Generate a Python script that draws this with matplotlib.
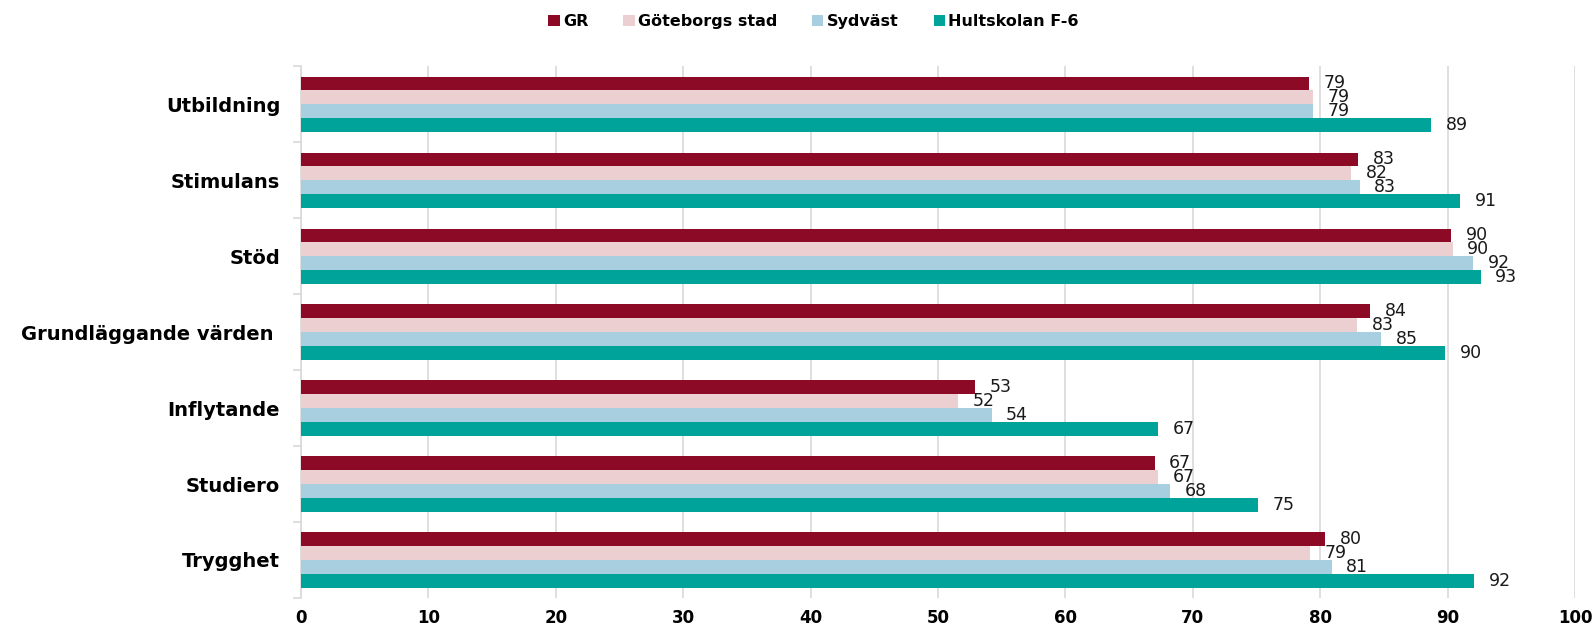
import matplotlib
matplotlib.use("Agg")
import matplotlib.pyplot as plt
import numpy as np

categories = ["Utbildning", "Stimulans", "Stöd", "Grundläggande värden ",
              "Inflytande", "Studiero", "Trygghet"]
series_names = ["GR", "Göteborgs stad", "Sydväst", "Hultskolan F-6"]
gr = [79.1, 83.0, 90.3, 83.9, 52.9, 67.0, 80.4]
goteborg = [79.4, 82.4, 90.4, 82.9, 51.6, 67.3, 79.2]
sydvast = [79.4, 83.1, 92.0, 84.8, 54.2, 68.2, 80.9]
hultskolan = [88.7, 91.0, 92.6, 89.8, 67.3, 75.1, 92.1]
xticks = [0, 10, 20, 30, 40, 50, 60, 70, 80, 90, 100]
colors = ["#8C0A26", "#EBCFD1", "#A8CFE0", "#00A39A"]

plt.rcParams['font.family'] = ['DejaVu Sans']

fig = plt.figure(figsize=(15.95, 6.3), dpi=100)
ax = fig.add_axes([0.1887, 0.0508, 0.7988, 0.8444])

data = [gr, goteborg, sydvast, hultskolan]
n = len(categories)
y = np.arange(n)
h = 0.181
for i, (vals, name, col) in enumerate(zip(data, series_names, colors)):
    pos = y + (i - 1.5) * h
    ax.barh(pos, vals, height=h, color=col, label=name, zorder=3)
    for yy, v in zip(pos, vals):
        ax.annotate(f"{v:.0f}", xy=(v, yy), xytext=(10.5, 0),
                    textcoords="offset points", ha="left", va="center",
                    fontsize=12.5, color="#1a1a1a", zorder=4)

ax.set_ylim(n - 0.5, -0.5)
ax.set_xlim(0, 100)
ax.set_xticks(xticks)
ax.set_xticklabels([str(t) for t in xticks], fontsize=12, fontweight="bold")
ax.tick_params(axis="x", length=0, pad=8)
ax.set_yticks(y)
ax.set_yticklabels(categories, fontsize=14, fontweight="bold")
ax.tick_params(axis="y", which="major", length=0, pad=15)
ax.set_yticks(np.arange(n + 1) - 0.5, minor=True)
ax.tick_params(axis="y", which="minor", length=6, color="#d9d9d9", width=1.2)

ax.grid(axis="x", color="#d9d9d9", linewidth=1.2, zorder=0)
for s in ["top", "right", "bottom"]:
    ax.spines[s].set_visible(False)
ax.spines["left"].set_color("#d9d9d9")
ax.spines["left"].set_linewidth(1.2)

fig.legend(loc="upper center", bbox_to_anchor=(0.51, 1.0), ncol=4,
           frameon=False,
           prop={"weight": "bold", "size": 11.5},
           handlelength=0.7, handleheight=0.7, handletextpad=0.2,
           columnspacing=2.2)

fig.savefig("out.png", dpi=100)
